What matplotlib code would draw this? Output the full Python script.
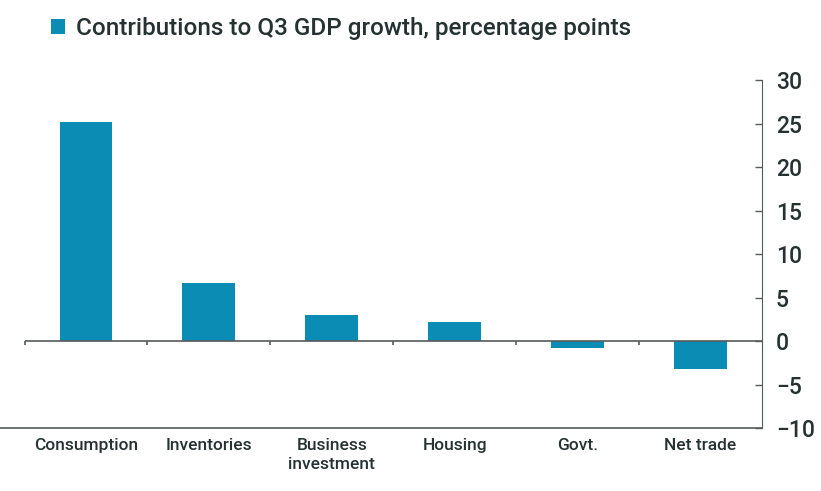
import numpy as np
import matplotlib
matplotlib.use('Agg')
import matplotlib.pyplot as plt

categories = ['Consumption', 'Inventories', 'Business\ninvestment', 'Housing', 'Govt.', 'Net trade']
values = [25.2, 6.7, 3.0, 2.2, -0.8, -3.2]
yticks = [-10, -5, 0, 5, 10, 15, 20, 25, 30]
series_name = 'Contributions to Q3 GDP growth, percentage points'

bar_color = '#0a8cb4'
text_color = '#263232'
line_color = '#555a5a'

plt.rcParams['font.family'] = ['Roboto', 'DejaVu Sans']

fig = plt.figure(figsize=(8.21, 4.91), dpi=100)
ax = fig.add_axes([0.0, 0.128, 0.928, 0.709])

x = np.arange(len(categories))
ax.bar(x, values, width=0.43, color=bar_color, label=series_name, zorder=2)

# zero line with category boundary ticks
ax.hlines(0, -0.5, len(categories) - 0.5, color=line_color, lw=1.2, zorder=3)
ax.vlines(np.arange(len(categories)) - 0.5, -0.45, 0, color=line_color, lw=1.2, zorder=3)

ax.set_xlim(-0.7, len(categories) - 0.5)
ax.set_ylim(-10, 30)
ax.set_yticks(yticks)
ax.yaxis.tick_right()
ax.tick_params(axis='y', direction='in', length=5, width=1, color=line_color,
               labelsize=16.5, labelcolor=text_color, pad=10)
for lab in ax.get_yticklabels():
    lab.set_fontweight('medium')
ax.set_xticks(x)
ax.set_xticklabels(categories, linespacing=1.35)
ax.tick_params(axis='x', length=0, labelsize=12.5, labelcolor=text_color, pad=7)
for lab in ax.get_xticklabels():
    lab.set_fontweight('medium')

for s in ['top', 'left']:
    ax.spines[s].set_visible(False)
ax.spines['right'].set_color(line_color)
ax.spines['bottom'].set_color(line_color)
ax.spines['bottom'].set_linewidth(1.2)

fig.legend(loc='upper left', bbox_to_anchor=(0.035, 1.01), frameon=False,
           prop={'size': 17.5, 'weight': 'medium'}, handlelength=0.6, handleheight=0.6,
           handletextpad=0.45, labelcolor=text_color)

plt.savefig('out.png', dpi=100)
